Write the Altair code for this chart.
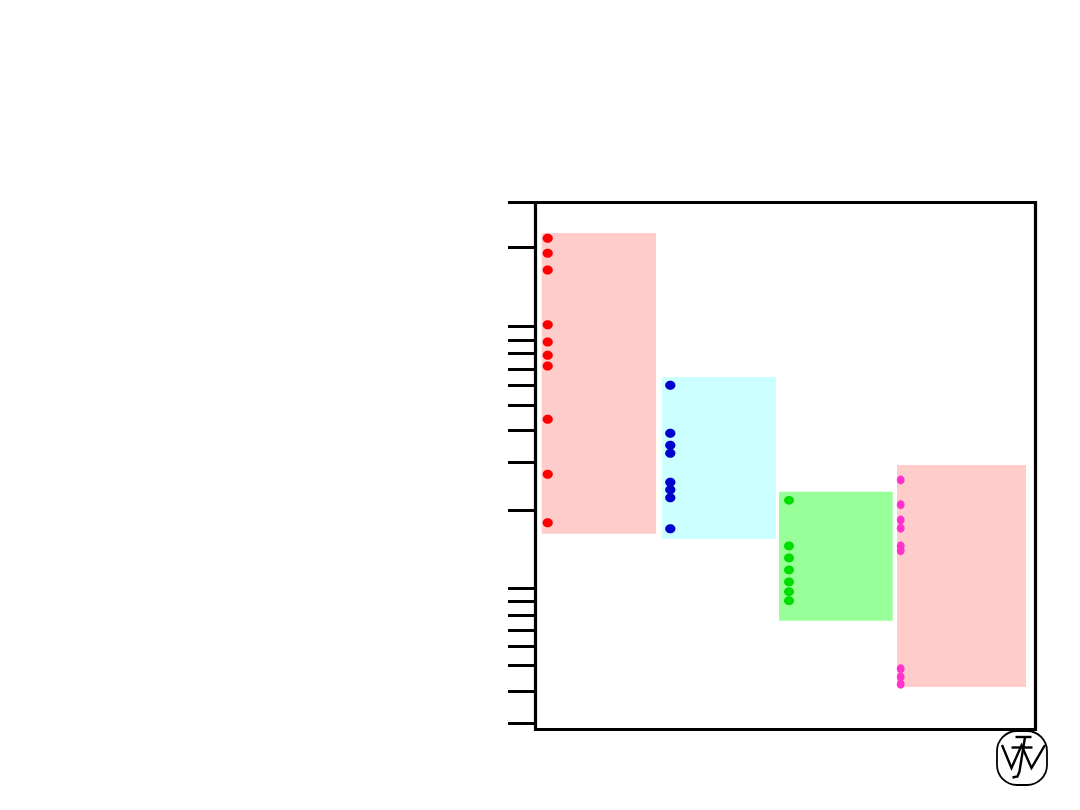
import altair as alt
import pandas as pd

# Values measured in plot units (the original axis carries no labels)
tick_values = [527, 482.2, 402.8, 389.2, 375.8, 360.5, 344.2, 324.5, 299.2, 267.5,
               219.5, 141.5, 128.2, 114.5, 99.5, 83.2, 63.8, 38.2, 6.5]

box_names = ["A", "B", "C", "D"]
box_x1 = [6.2, 126.5, 243.5, 361.5]
box_x2 = [120.5, 240.5, 357.2, 490.5]
box_top = [496.5, 352.5, 237.8, 264.5]
box_bottom = [195.8, 190.5, 108.8, 42.5]
box_colors = ["#FFCCCC", "#CCFFFF", "#99FF99", "#FFCCCC"]
dot_colors = ["#FF0000", "#0000CC", "#00DD00", "#FF33CC"]
wide_dot = "M-1,0A1,0.88,0,1,1,1,0A1,0.88,0,1,1,-1,0Z"
tall_dot = "M-0.88,0A0.88,1,0,1,1,0.88,0A0.88,1,0,1,1,-0.88,0Z"
dot_shapes = [wide_dot, wide_dot, wide_dot, tall_dot]
dot_sizes = [105, 105, 100, 80]
dot_x = [12.2, 134.8, 253.5, 365.2]

series_a = [491.2, 476.2, 459.5, 404.8, 387.5, 374.2, 363.5, 310.2, 255.2, 206.8]
series_b = [344.2, 296.2, 284.2, 276.2, 247.2, 239.8, 231.8, 200.8]
series_c = [229.2, 183.5, 171.5, 159.5, 147.5, 137.8, 128.8]
series_d = [249.5, 224.8, 209.5, 201.2, 183.5, 178.8, 60.8, 52.5, 45.2]
all_series = [series_a, series_b, series_c, series_d]

# Publisher mark below the frame
logo_w_x = [466.5, 476, 486, 496, 509.5]
logo_w_y = [-15.5, -38.5, -16, -38.5, -15.5]
logo_j_x = [489.5, 484, 482, 477]
logo_j_y = [-7.5, -42, -47, -48]
logo_top_x = [480, 496]
logo_top_y = [-7.5, -7.5]
logo_bar_x = [476, 497]
logo_bar_y = [-18, -18]

x_scale = alt.Scale(domain=[0, 500], nice=False, zero=False)
y_scale = alt.Scale(domain=[0, 527], nice=False, zero=False)
y_axis = alt.Axis(values=tick_values, labels=False, title=None, domain=False, grid=False,
                  ticks=True, tickSize=27.5, tickWidth=3, tickColor="black", translate=0)

boxes = pd.DataFrame({"name": box_names, "x1": box_x1, "x2": box_x2,
                      "top": box_top, "bottom": box_bottom, "color": box_colors})
dots = pd.DataFrame([
    {"name": n, "x": x, "y": v, "color": c, "size": s, "shape": sh}
    for n, x, c, s, sh, vals in zip(box_names, dot_x, dot_colors, dot_sizes, dot_shapes, all_series)
    for v in vals
])
logo = pd.DataFrame(
    [{"stroke": name, "i": i, "x": x, "y": y}
     for name, xs, ys in [("w", logo_w_x, logo_w_y), ("j", logo_j_x, logo_j_y),
                          ("top", logo_top_x, logo_top_y), ("bar", logo_bar_x, logo_bar_y)]
     for i, (x, y) in enumerate(zip(xs, ys))]
)
logo_box = pd.DataFrame({"x1": [461.5], "x2": [511.5], "y1": [-1.5], "y2": [-55.5]})

x_enc = alt.X("x:Q", scale=x_scale, axis=None)
y_enc = alt.Y("y:Q", scale=y_scale, axis=y_axis)

box_layer = alt.Chart(boxes).mark_rect().encode(
    x=alt.X("x1:Q", scale=x_scale, axis=None),
    x2="x2:Q",
    y=alt.Y("top:Q", scale=y_scale, axis=y_axis),
    y2="bottom:Q",
    color=alt.Color("color:N", scale=None),
)

dot_layer = alt.Chart(dots).mark_point(filled=True, opacity=1, strokeWidth=0).encode(
    x=x_enc,
    y=y_enc,
    color=alt.Color("color:N", scale=None),
    size=alt.Size("size:Q", scale=None),
    shape=alt.Shape("shape:N", scale=None),
)

logo_box_layer = alt.Chart(logo_box).mark_rect(
    fillOpacity=0, stroke="black", strokeWidth=1.8, cornerRadius=20, clip=False
).encode(
    x=alt.X("x1:Q", scale=x_scale, axis=None),
    x2="x2:Q",
    y=alt.Y("y1:Q", scale=y_scale, axis=y_axis),
    y2="y2:Q",
)

logo_layer = alt.Chart(logo).mark_line(color="black", strokeWidth=2.4, clip=False).encode(
    x=x_enc,
    y=y_enc,
    detail="stroke:N",
    order="i:Q",
)

chart = alt.layer(box_layer, dot_layer, logo_box_layer, logo_layer).properties(
    width=500,
    height=527,
    background="white",
    padding={"left": 527.5, "top": 194.5, "right": 30, "bottom": 60},
    autosize=alt.AutoSizeParams(type="none"),
).configure_view(stroke="black", strokeWidth=3.2)

chart.save("out.html", embed_options={"renderer": "svg", "actions": False})
